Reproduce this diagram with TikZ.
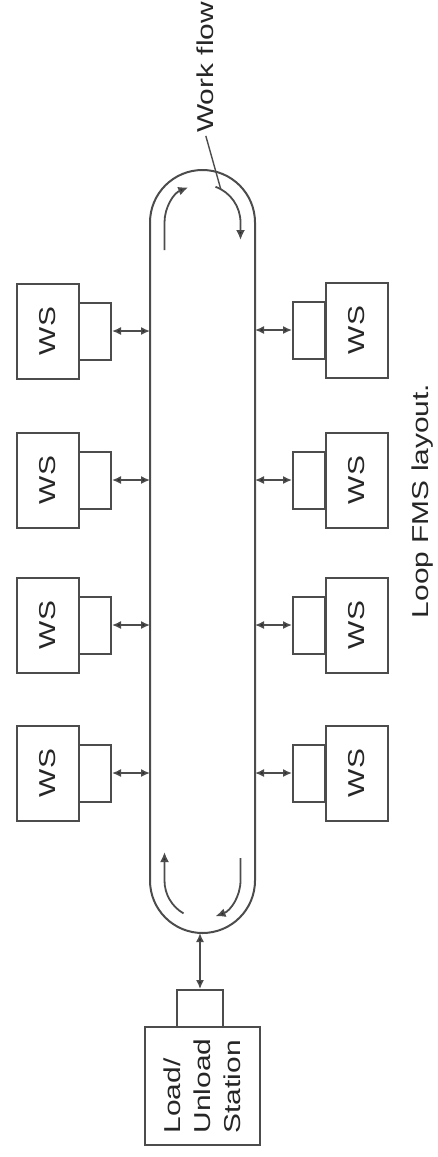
\documentclass[tikz,border=0pt]{standalone}
\usepackage{fontspec}
\setmainfont{Liberation Sans}
\usetikzlibrary{arrows.meta}
\definecolor{lgray}{gray}{0.3}
\tikzset{wsbox/.style = {draw=lgray, line width=2pt, fill=white,
                         minimum width=62pt, minimum height=95pt, inner sep=0}}
\tikzset{tool/.style = {draw=lgray, line width=2pt, fill=white,
                        minimum width=32pt, minimum height=57pt, inner sep=0}}
\tikzset{lbl/.style = {rotate=90, xscale=1.3, inner sep=0, text=black!85,
                       font=\fontsize{23}{30}\selectfont}}
\tikzset{link/.style = {draw=lgray, line width=1.5pt,
                        {Latex[length=9pt,width=8pt,fill=black!85]}-{Latex[length=9pt,width=8pt,fill=black!85]}}}
\tikzset{flow/.style = {draw=lgray, line width=1.8pt,
                        -{Latex[length=10pt,width=9pt,fill=black!85]}}}

\begin{document}
\begin{tikzpicture}[x=1pt, y=-1pt]
      \useasboundingbox (0,0) rectangle (438,1157);
      % the loop track
      \draw[draw=lgray, line width=2pt]
        (150,222.5) arc (180:360:52.5) -- (255,880.5) arc (0:180:52.5) -- cycle;
      \coordinate (l1) at (150,331);
      \coordinate (l2) at (150,480);
      \coordinate (l3) at (150,625);
      \coordinate (l4) at (150,773);
      \coordinate (r1) at (255,330);
      \coordinate (r2) at (255,480);
      \coordinate (r3) at (255,625);
      \coordinate (r4) at (255,773);
      \coordinate (lb) at (200,933);
      % work flow inside the loop
      \draw[flow] (164.5,250) -- (164.5,222.5) arc (180:248:38);
      \draw[flow] (215.5,186.8) arc (290:360:38) -- (240.5,240);
      \draw[flow] (183.5,913.4) arc (120:180:38) -- (164.5,852);
      \draw[flow] (240.5,858) -- (240.5,880.5) arc (0:70:38);
      % stations on the left
      \node[wsbox, label={[lbl]center:WS}] (wsl1) at (48,331) {};
      \node[tool] (tl1) at (95,331) {};
      \node[wsbox, label={[lbl]center:WS}] (wsl2) at (48,480) {};
      \node[tool] (tl2) at (95,480) {};
      \node[wsbox, label={[lbl]center:WS}] (wsl3) at (48,625) {};
      \node[tool] (tl3) at (95,625) {};
      \node[wsbox, label={[lbl]center:WS}] (wsl4) at (48,773) {};
      \node[tool] (tl4) at (95,773) {};
      \draw[link] (tl1) -- (l1);
      \draw[link] (tl2) -- (l2);
      \draw[link] (tl3) -- (l3);
      \draw[link] (tl4) -- (l4);
      % stations on the right
      \node[wsbox, label={[lbl]center:WS}] (wsr1) at (356.5,330) {};
      \node[tool] (tr1) at (309,330) {};
      \node[wsbox, label={[lbl]center:WS}] (wsr2) at (356.5,480) {};
      \node[tool] (tr2) at (309,480) {};
      \node[wsbox, label={[lbl]center:WS}] (wsr3) at (356.5,625) {};
      \node[tool] (tr3) at (309,625) {};
      \node[wsbox, label={[lbl]center:WS}] (wsr4) at (356.5,773) {};
      \node[tool] (tr4) at (309,773) {};
      \draw[link] (tr1) -- (r1);
      \draw[link] (tr2) -- (r2);
      \draw[link] (tr3) -- (r3);
      \draw[link] (tr4) -- (r4);
      % load / unload
      \node[wsbox, minimum width=115pt, minimum height=118pt,
        label={[lbl, align=left]center:{Load/\\Unload\\Station}}]
        (lus) at (202.5,1086) {};
      \node[tool, minimum width=46pt, minimum height=37pt] (lut) at (200,1008.5) {};
      \draw[link] (lb) -- (lut);
      % texts
      \node[lbl, anchor=west] (wf) at (205,133) {Work flow};
      \coordinate (wfend) at (221,190);
      \draw[draw=lgray, line width=1.4pt, shorten <=3pt] (wf.west) -- (wfend);
      \node[lbl] (cap) at (423,501) {Loop FMS layout.};
\end{tikzpicture}
\end{document}
